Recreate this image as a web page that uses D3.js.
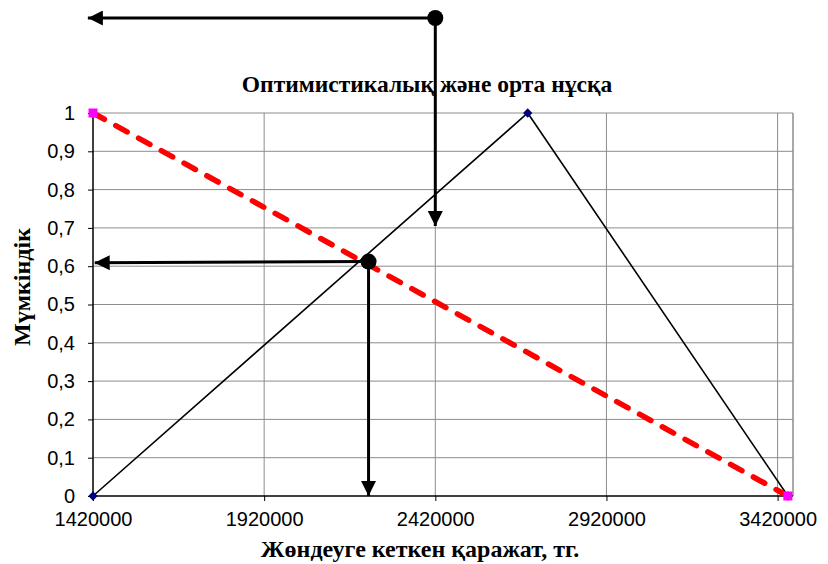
<!DOCTYPE html>
<html>
<head>
<meta charset="utf-8">
<script src="https://cdn.jsdelivr.net/npm/d3@7"></script>
<style>
  body { margin: 0; background: #fff; }
  svg text { fill: #000; }
</style>
</head>
<body>
<svg id="chart" width="828" height="564"></svg>
<script>
// data
var xTicks = [1420000, 1920000, 2420000, 2920000, 3420000];
var yTicks = [0, 0.1, 0.2, 0.3, 0.4, 0.5, 0.6, 0.7, 0.8, 0.9, 1];
var triangle = [[1420000, 0], [2690000, 1], [3450000, 0]];
var dashed = [[1420000, 1], [3450000, 0]];
// annotation arrows: start point (circle) and arrow tips
var arrowsTop = {from: [2420000, 1.248], left: [1405000, 1.248], down: [2420000, 0.705]};
var arrowsMid = {from: [2225000, 0.612], left: [1425000, 0.609], down: [2225000, 0]};

var svg = d3.select("#chart");

var x = d3.scaleLinear().domain([1420000, 3465000]).range([93, 793]);
var y = d3.scaleLinear().domain([0, 1]).range([496, 113]);

var defs = svg.append("defs");
defs.append("marker")
    .attr("id", "head")
    .attr("viewBox", "0 0 10 10")
    .attr("refX", 10).attr("refY", 5)
    .attr("markerWidth", 5).attr("markerHeight", 5)
    .attr("markerUnits", "strokeWidth")
    .attr("orient", "auto")
  .append("path")
    .attr("d", "M0,0L10,5L0,10z")
    .attr("fill", "#000");

// grid
svg.append("g").selectAll("line")
    .data(yTicks.slice(1))
  .enter().append("line")
    .attr("x1", x.range()[0]).attr("x2", x.range()[1])
    .attr("y1", function(d) { return y(d); })
    .attr("y2", function(d) { return y(d); })
    .style("stroke", "#8c8c8c")
    .style("stroke-width", 1);

svg.append("g").selectAll("line")
    .data(xTicks.slice(1))
  .enter().append("line")
    .attr("x1", function(d) { return x(d); })
    .attr("x2", function(d) { return x(d); })
    .attr("y1", y(0)).attr("y2", y(1))
    .style("stroke", "#8c8c8c")
    .style("stroke-width", 1);

// right border
svg.append("line")
    .attr("x1", x.range()[1]).attr("x2", x.range()[1])
    .attr("y1", y(0)).attr("y2", y(1))
    .style("stroke", "#8c8c8c").style("stroke-width", 1.5);

// axes
var xAxis = svg.append("g")
    .attr("transform", "translate(0," + y(0) + ")")
    .call(d3.axisBottom(x).tickValues(xTicks).tickSize(5).tickPadding(11)
      .tickFormat(d3.format("d")));
xAxis.select(".domain").attr("d", "M" + x.range()[0] + ",0H" + x.range()[1]).style("stroke-width", 1.5);
xAxis.selectAll("text").style("font-family", "Liberation Sans, Arial, sans-serif").style("font-size", "20px");

var yAxis = svg.append("g")
    .attr("transform", "translate(" + x(1420000) + ",0)")
    .call(d3.axisLeft(y).tickValues(yTicks).tickSize(5).tickPadding(13)
      .tickFormat(function(d) { return String(d).replace(".", ","); }));
yAxis.select(".domain").attr("d", "M0," + y(0) + "V" + y(1)).style("stroke-width", 1.5);
yAxis.selectAll("text").style("font-family", "Liberation Sans, Arial, sans-serif").style("font-size", "20px");

// triangle series
var line = d3.line().x(function(d) { return x(d[0]); }).y(function(d) { return y(d[1]); });

svg.append("path")
    .datum(triangle)
    .attr("d", line)
    .style("fill", "none")
    .style("stroke", "#000")
    .style("stroke-width", 1.6);

svg.selectAll(".diamond")
    .data(triangle)
  .enter().append("path")
    .attr("class", "diamond")
    .attr("transform", function(d) { return "translate(" + x(d[0]) + "," + y(d[1]) + ")"; })
    .attr("d", d3.symbol().type(d3.symbolDiamond2).size(55))
    .style("fill", "#000080");

// dashed series
svg.append("path")
    .datum(dashed)
    .attr("d", line)
    .style("fill", "none")
    .style("stroke", "#ff0000")
    .style("stroke-width", 5.5)
    .style("stroke-linecap", "round")
    .style("stroke-dasharray", "13,13");

svg.selectAll(".sq")
    .data(dashed)
  .enter().append("rect")
    .attr("class", "sq")
    .attr("x", function(d) { return x(d[0]) - 4.5; })
    .attr("y", function(d) { return y(d[1]) - 4.5; })
    .attr("width", 9).attr("height", 9)
    .style("fill", "#ff00ff");

// arrows
function drawArrows(a) {
  [a.left, a.down].forEach(function(p) {
    svg.append("line")
        .attr("x1", x(a.from[0])).attr("y1", y(a.from[1]))
        .attr("x2", x(p[0])).attr("y2", y(p[1]))
        .style("stroke", "#000")
        .style("stroke-width", 3)
        .attr("marker-end", "url(#head)");
  });
  svg.append("circle")
      .attr("cx", x(a.from[0])).attr("cy", y(a.from[1]))
      .attr("r", 8)
      .style("fill", "#000");
}
drawArrows(arrowsTop);
drawArrows(arrowsMid);

// title + labels
svg.append("text")
    .attr("x", 427).attr("y", 92)
    .attr("text-anchor", "middle")
    .style("font-family", "Liberation Serif, Times New Roman, serif")
    .style("font-weight", "bold")
    .style("font-size", "23.5px")
    .text("Оптимистикалық және орта нұсқа");

svg.append("text")
    .attr("x", 420).attr("y", 557)
    .attr("text-anchor", "middle")
    .style("font-family", "Liberation Serif, Times New Roman, serif")
    .style("font-weight", "bold")
    .style("font-size", "24px")
    .text("Жөндеуге кеткен қаражат, тг.");

svg.append("text")
    .attr("transform", "translate(30,287) rotate(-90)")
    .attr("text-anchor", "middle")
    .style("font-family", "Liberation Serif, Times New Roman, serif")
    .style("font-weight", "bold")
    .style("font-size", "24px")
    .text("Мүмкіндік");
</script>
</body>
</html>
